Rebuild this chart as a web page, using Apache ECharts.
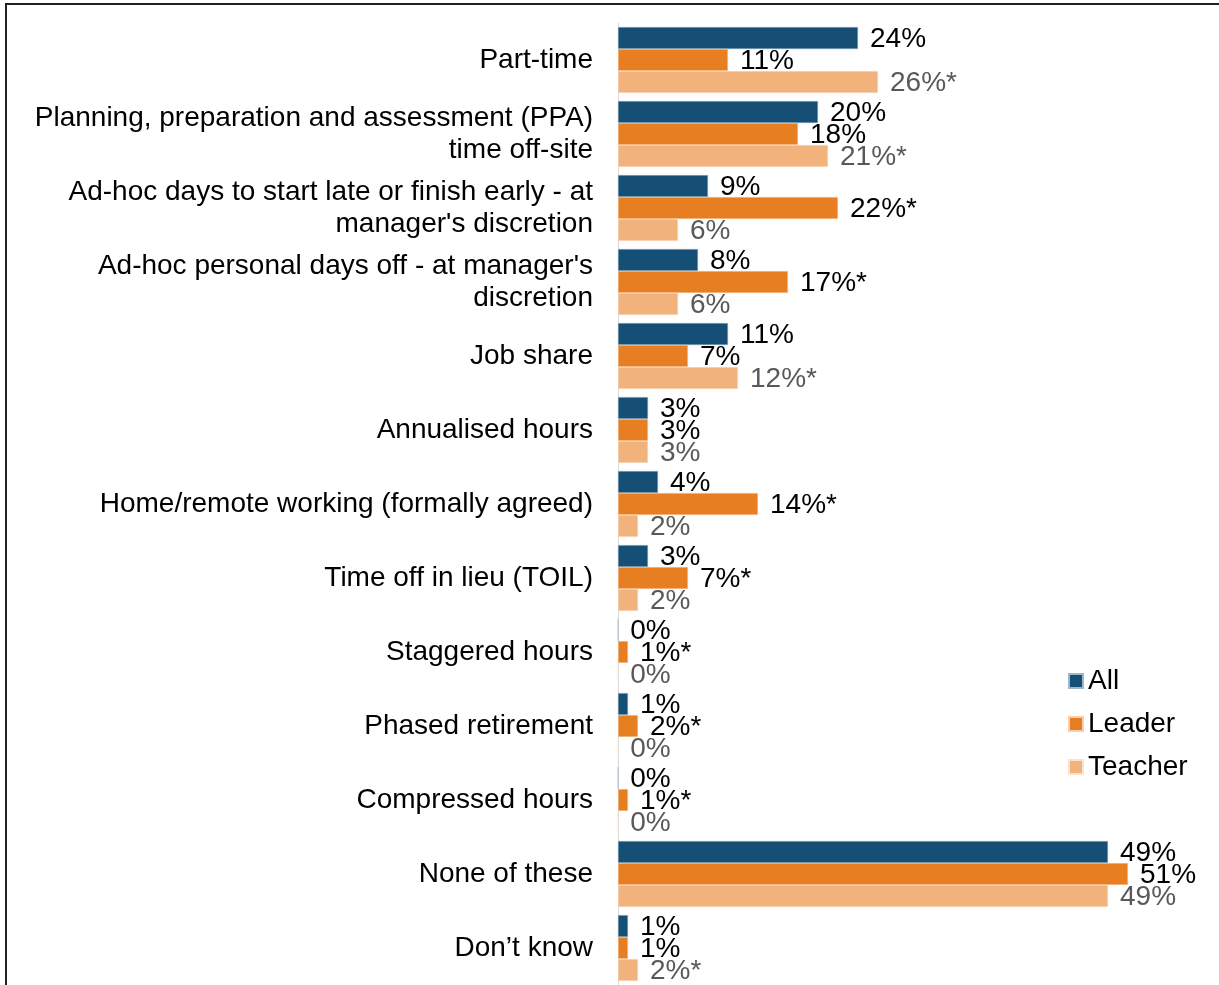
<!DOCTYPE html>
<html>
<head>
<meta charset="utf-8">
<script src="https://cdn.jsdelivr.net/npm/echarts@6/dist/echarts.min.js"></script>
<style>
  html, body { margin: 0; padding: 0; background: #fff; }
  #chart { width: 1219px; height: 985px; }
</style>
</head>
<body>
<div id="chart"></div>
<script>
    var categories = [
        'Part-time',
        'Planning, preparation and assessment (PPA)\ntime off-site',
        'Ad-hoc days to start late or finish early - at\nmanager\'s discretion',
        'Ad-hoc personal days off - at manager\'s\ndiscretion',
        'Job share',
        'Annualised hours',
        'Home/remote working (formally agreed)',
        'Time off in lieu (TOIL)',
        'Staggered hours',
        'Phased retirement',
        'Compressed hours',
        'None of these',
        'Don\u2019t know'
    ];
    var allValues = [24, 20, 9, 8, 11, 3, 4, 3, 0, 1, 0, 49, 1];
    var leaderValues = [11, 18, 22, 17, 7, 3, 14, 7, 1, 2, 1, 51, 1];
    var teacherValues = [26, 21, 6, 6, 12, 3, 2, 2, 0, 0, 0, 49, 2];
    // significance markers (*) shown after the label
    var leaderSig = [0, 0, 1, 1, 0, 0, 1, 1, 1, 1, 1, 0, 0];
    var teacherSig = [1, 1, 0, 0, 1, 0, 0, 0, 0, 0, 0, 0, 1];

    var chart = echarts.init(document.getElementById('chart'));

    function makeLabel(sig, color) {
        return {
            show: true,
            position: 'right',
            distance: 12,
            offset: [0, 1],
            fontFamily: 'Liberation Sans, Arial',
            fontSize: 28,
            color: color,
            formatter: function (p) {
                return p.value + '%' + (sig && sig[p.dataIndex] ? '*' : '');
            }
        };
    }

    chart.setOption({
        animation: false,
        graphic: [{
            type: 'rect',
            shape: { x: 6, y: 4, width: 1300, height: 1100 },
            style: { fill: 'none', stroke: '#222', lineWidth: 2 },
            silent: true
        }],
        legend: {
            orient: 'vertical',
            left: 1063,
            top: 662,
            itemWidth: 14,
            itemHeight: 14,
            itemGap: 15,
            icon: 'rect',
            textStyle: { fontFamily: 'Liberation Sans, Arial', fontSize: 28, color: '#000' },
            data: ['All', 'Leader', 'Teacher']
        },
        grid: {
            left: 618,
            right: 1,
            top: 23,
            bottom: -3,
            containLabel: false
        },
        xAxis: {
            type: 'value',
            min: 0,
            max: 60,
            show: false
        },
        yAxis: {
            type: 'category',
            inverse: true,
            data: categories,
            axisLine: { show: true, lineStyle: { color: '#d9d9d9', width: 1 } },
            axisTick: { show: false },
            axisLabel: {
                margin: 25,
                fontFamily: 'Liberation Sans, Arial',
                fontSize: 28,
                lineHeight: 32,
                color: '#000',
                align: 'right'
            }
        },
        series: [
            {
                name: 'All',
                type: 'bar',
                barGap: '0%',
                barCategoryGap: '11%',
                itemStyle: { color: '#154F76', borderColor: '#9fb6c8', borderWidth: 0.5 },
                label: makeLabel(null, '#000'),
                data: allValues
            },
            {
                name: 'Leader',
                type: 'bar',
                barGap: '0%',
                barCategoryGap: '11%',
                itemStyle: { color: '#E77E22', borderColor: '#f6d0ad', borderWidth: 0.5 },
                label: makeLabel(leaderSig, '#000'),
                data: leaderValues
            },
            {
                name: 'Teacher',
                type: 'bar',
                barGap: '0%',
                barCategoryGap: '11%',
                itemStyle: { color: '#F2B27C', borderColor: '#fbe3cf', borderWidth: 0.5 },
                label: makeLabel(teacherSig, '#595959'),
                data: teacherValues
            }
        ]
    });
</script>
</body>
</html>
